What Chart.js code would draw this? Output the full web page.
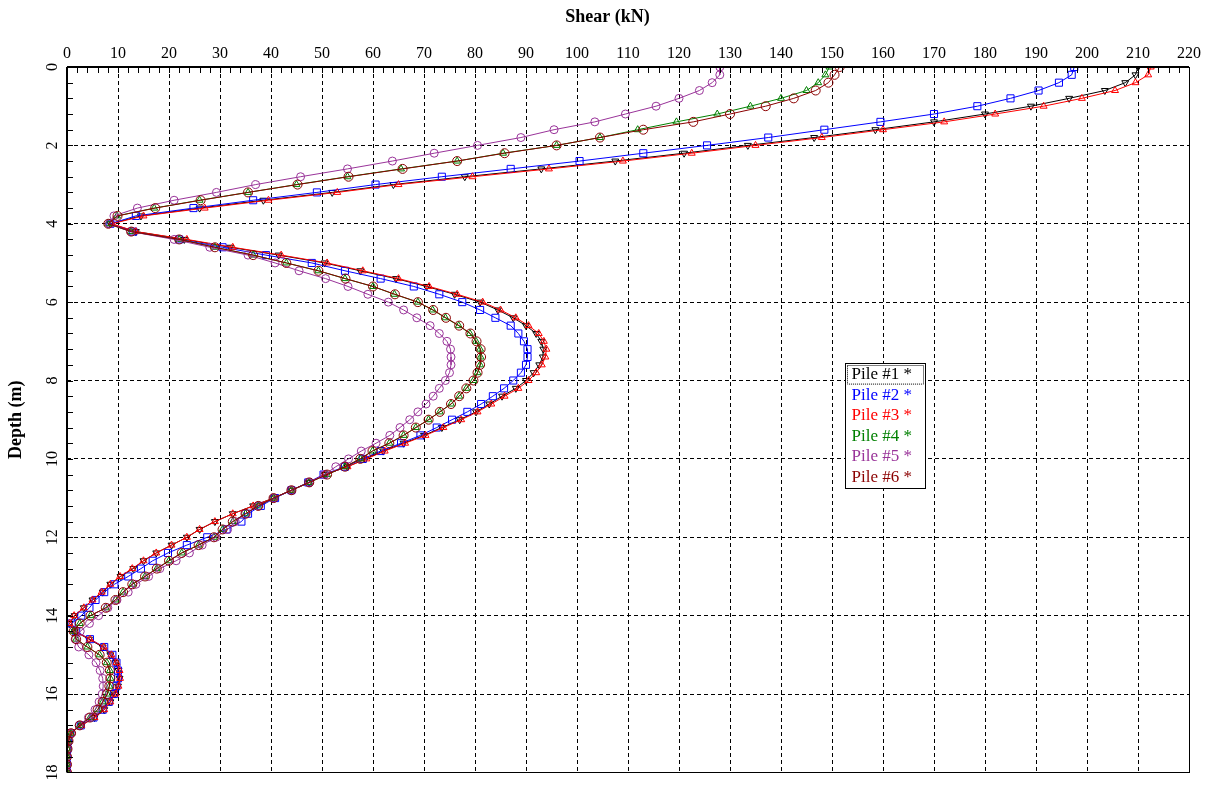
<!DOCTYPE html>
<html>
<head>
<meta charset="utf-8">
<script src="https://cdn.jsdelivr.net/npm/chart.js@4.4.1/dist/chart.umd.min.js"></script>
<style>
  html, body { margin: 0; padding: 0; background: #fff; }
  #wrap { width: 1215px; height: 788px; }
</style>
</head>
<body>
<div id="wrap"><canvas id="c" width="1215" height="788"></canvas></div>
<script>
// ---- Data ----
const depth = [0,0.2,0.4,0.6,0.8,1,1.2,1.4,1.6,1.8,2,2.2,2.4,2.6,2.8,3,3.2,3.4,3.6,3.8,4,4.2,4.4,4.6,4.8,5,5.2,5.4,5.6,5.8,6,6.2,6.4,6.6,6.8,7,7.2,7.4,7.6,7.8,8,8.2,8.4,8.6,8.8,9,9.2,9.4,9.6,9.8,10,10.2,10.4,10.6,10.8,11,11.2,11.4,11.6,11.8,12,12.2,12.4,12.6,12.8,13,13.2,13.4,13.6,13.8,14,14.2,14.4,14.6,14.8,15,15.2,15.4,15.6,15.8,16,16.2,16.4,16.6,16.8,17,17.2,17.4,17.6,17.8,18];

const pile1 = [210,209.5,207.5,203.5,196.5,189,180,170,158.5,146.5,133.5,121,107.5,93,78,64,52,38.5,26,14.5,8.5,13.5,23,32,41.5,50.5,57.5,64.5,70.5,76,81,84.5,87.5,90,92,93,93.4,93.3,92.6,91.5,90,88,85.3,82.8,80.2,77,73.5,70,66,62,58.5,55,50.5,47.5,44,40.5,36.5,32.5,29,26,23.5,20.5,17.5,15,13,10.5,8.5,7,5,3.3,1.5,0.5,1.5,4.3,7,8.5,9.5,10.1,10.3,10,9.4,8.5,7.3,5.4,2.8,0.6,0.2,0.1,0,0,0];

const pile2 = [197.5,197,194.5,190.5,185,178.5,170,159.5,148.5,137.5,125.5,113,100.5,87,73.5,60.5,49,36.5,24.8,13.5,8.5,13,22,30.5,39,48,54.5,61.5,68,73,77.5,81,84,87,88.5,89.6,90.3,90.3,90,89,87.5,85.7,83.5,81.2,78.5,75.5,72.5,69.3,65.5,61.5,58,54.5,50.3,47.3,44,40.8,38,35.5,34.2,31.3,27.5,23.5,19.8,16.8,14.5,12,9.3,7.3,5.6,4.4,2.8,0.9,1.8,4.5,7.3,8.9,9.7,10,10,9.7,9.2,8.2,7,5.2,2.7,0.6,0.2,0.1,0,0,0];

const pile3 = [212.5,212,209.5,205.5,199,191.5,182,172,160,148,135,122.5,109,94.5,79.5,65,53,39.5,27,15,8.8,13.5,23.5,32.5,42,51,58,65,71,76.5,81.5,85,88,90.5,92.5,93.5,94,93.8,93.1,92,90.5,88.5,85.8,83.2,80.5,77.3,73.8,70.3,66.3,62.3,58.7,55,50.5,47.5,44,40.5,36.5,32.5,29,26,23.5,20.5,17.5,15,12.8,10.4,8.5,6.8,5,3.3,1.4,0.5,1.5,4.5,7.2,8.7,9.7,10.3,10.4,10.1,9.5,8.5,7.3,5.4,2.8,0.6,0.2,0.1,0,0,0];

const pile4 = [149.5,148.7,147.3,145,140,134,127.5,119.5,111.9,104.5,96,85.5,76.5,65.5,55,45,35.5,26,17.1,9.8,8,12.5,22,29,36.5,43,49.3,54.5,60,64.2,68.8,71.7,74.2,76.8,79,80.2,81,81.1,81,80.5,79.7,78.3,76.9,75.3,73.1,70.9,68.4,66,63.2,59.9,57.5,54.5,51,47.5,44,40.5,37.5,35,32.5,30.5,28.8,25.8,22.5,20,17.6,15.3,12.8,11,9.5,7.6,4.6,2.5,1.3,1.8,4,6.4,7.8,8.4,8.5,8.3,7.9,7,6,4.5,2.5,0.8,0.3,0.1,0,0,0];

const pile5 = [128,128,126.5,124,120,115.5,109.5,103.5,95.5,89,80.5,72,63.8,55,45.8,37,29.3,21,13.8,9.2,8.3,12.5,21,28,35.5,40.8,45.5,50.7,55.1,59,63,66,68.6,71.2,73,74.5,75.2,75.3,75.3,75,74.2,73,71.8,70.4,68.8,67.2,65.3,63.3,60.6,57.7,55.2,52.7,50.5,47.5,44,40.5,37.5,35,33,31.5,29.2,26.5,24,21.4,18.2,16,13.5,12,9.8,8,6.2,4.4,2.6,1.6,2.3,4.3,5.7,6.5,7,7.1,6.9,6.3,5.5,4.2,2.4,0.8,0.3,0.1,0,0,0];

const pile6 = [151.5,150.5,149.3,146.8,142.5,137,130,122.8,113,104.5,96,85.8,76.5,65.8,55.2,45.2,35.5,26.2,17.3,9.9,8.1,12.6,22,29,36.5,43,49.3,54.6,60,64.3,68.8,71.8,74.3,76.9,79.1,80.3,81.1,81.2,81,80.5,79.7,78.3,76.9,75.3,73.1,70.9,68.4,66,63.2,59.9,57.5,54.5,51,47.5,44,40.5,37.5,35,32.5,30.5,28.8,25.8,22.5,20,17.6,15.3,12.8,11,9.5,7.6,4.6,2.5,1.3,1.8,4,6.4,7.8,8.4,8.5,8.3,7.9,7,6,4.5,2.5,0.8,0.3,0.1,0,0,0];

const seriesLabels = ['Pile #1 *','Pile #2 *','Pile #3 *','Pile #4 *','Pile #5 *','Pile #6 *'];
const seriesValues = [pile1, pile2, pile3, pile4, pile5, pile6];
const seriesColors = ['#000000','#0000ff','#ff0000','#008000','#993399','#8b0000'];
const seriesMarkers = ['triangle','rect','triangle','triangle','circle','circle'];
const markerRot = [180,0,0,0,0,0];
const markerRadius = [4,5,4,4,4,4.5];

const xTitle = 'Shear (kN)';
const yTitle = 'Depth (m)';

const SERIF = '"Liberation Serif", "Times New Roman", serif';

const datasets = seriesValues.map((vals, k) => ({
  label: seriesLabels[k],
  data: depth.map((d, i) => ({ x: vals[i], y: d })),
  showLine: true,
  borderColor: seriesColors[k],
  borderWidth: 1,
  backgroundColor: 'rgba(0,0,0,0)',
  pointStyle: seriesMarkers[k],
  pointRotation: markerRot[k],
  pointRadius: markerRadius[k],
  pointBorderColor: seriesColors[k],
  pointBackgroundColor: 'rgba(0,0,0,0)',
  pointBorderWidth: 1,
  tension: 0,
  order: 5 - k
}));

// Inward minor ticks, frame and in-plot legend
const decor = {
  id: 'decor',
  afterDatasetsDraw(chart) {
    const { ctx, chartArea: a, scales: { x, y } } = chart;
    ctx.save();
    ctx.setLineDash([]);
    ctx.strokeStyle = '#000';
    ctx.lineWidth = 1;
    // top axis ticks every 2 kN
    for (let v = 0; v <= 220; v += 2) {
      const px = Math.round(x.getPixelForValue(v)) + 0.5;
      ctx.beginPath(); ctx.moveTo(px, a.top); ctx.lineTo(px, a.top + 6); ctx.stroke();
    }
    // left axis ticks every 0.4 m
    for (let i = 0; i <= 45; i++) {
      const py = Math.round(y.getPixelForValue(i * 0.4)) + 0.5;
      ctx.beginPath(); ctx.moveTo(a.left, py); ctx.lineTo(a.left + 6, py); ctx.stroke();
    }
    // frame
    ctx.strokeRect(Math.round(a.left) + 0.5, Math.round(a.top) + 0.5,
                   Math.round(a.right - a.left), Math.round(a.bottom - a.top));
    ctx.lineWidth = 2;
    ctx.beginPath();
    ctx.moveTo(a.left, a.top); ctx.lineTo(a.right, a.top);
    ctx.moveTo(a.left, a.top); ctx.lineTo(a.left, a.bottom);
    ctx.stroke();

    // legend box placed in value space
    const lx = Math.round(x.getPixelForValue(152.5)) + 0.5;
    const ly = Math.round(y.getPixelForValue(7.55)) + 0.5;
    const lw = 80, rowH = 20.6, lh = Math.round(rowH * 6 + 1);
    ctx.lineWidth = 1;
    ctx.fillStyle = '#fff';
    ctx.fillRect(lx, ly, lw, lh);
    ctx.strokeStyle = '#000';
    ctx.strokeRect(lx, ly, lw, lh);
    // dotted focus rectangle around first entry
    ctx.setLineDash([1, 1]);
    ctx.strokeRect(lx + 2, ly + 2, lw - 4, rowH - 2);
    ctx.setLineDash([]);
    ctx.font = '17px ' + SERIF;
    ctx.textBaseline = 'middle';
    ctx.textAlign = 'left';
    chart.data.datasets.forEach((ds, k) => {
      ctx.fillStyle = ds.borderColor;
      ctx.fillText(ds.label, lx + 6, ly + 11 + k * rowH);
    });
    ctx.restore();
  }
};

new Chart(document.getElementById('c'), {
  type: 'scatter',
  data: { datasets },
  options: {
    responsive: false,
    animation: false,
    devicePixelRatio: 1,
    events: [],
    layout: { padding: { left: 0, right: 0, top: 0, bottom: 8 } },
    plugins: {
      legend: { display: false },
      tooltip: { enabled: false },
      title: {
        display: true,
        text: xTitle,
        color: '#000',
        font: { family: SERIF, size: 18, weight: 'bold' },
        padding: { top: 7, bottom: 3.4 }
      }
    },
    scales: {
      x: {
        type: 'linear',
        position: 'top',
        min: 0, max: 220,
        afterFit(s) { s.height = 35; },
        ticks: {
          stepSize: 10, autoSkip: false, maxRotation: 0, minRotation: 0,
          padding: 4, color: '#000',
          font: { family: SERIF, size: 16 }
        },
        grid: { display: true, color: '#000', lineWidth: 1, drawTicks: false },
        border: { display: false, dash: [4, 3] }
      },
      y: {
        type: 'linear',
        position: 'left',
        reverse: true,
        min: 0, max: 18,
        afterFit(s) { s.width = 67; },
        title: {
          display: true, text: yTitle, color: '#000',
          font: { family: SERIF, size: 18, weight: 'bold' },
          padding: { top: 6, bottom: 0 }
        },
        ticks: {
          stepSize: 2, autoSkip: false, minRotation: 90, maxRotation: 90,
          crossAlign: 'center', padding: 6, color: '#000',
          font: { family: SERIF, size: 16 }
        },
        grid: { display: true, color: '#000', lineWidth: 1, drawTicks: false },
        border: { display: false, dash: [4, 3] }
      },
      yR: {
        type: 'linear',
        position: 'right',
        display: true,
        afterFit(s) { s.width = 26; },
        ticks: { display: false },
        grid: { display: false, drawTicks: false },
        border: { display: false }
      }
    }
  },
  plugins: [decor]
});
</script>
</body>
</html>
